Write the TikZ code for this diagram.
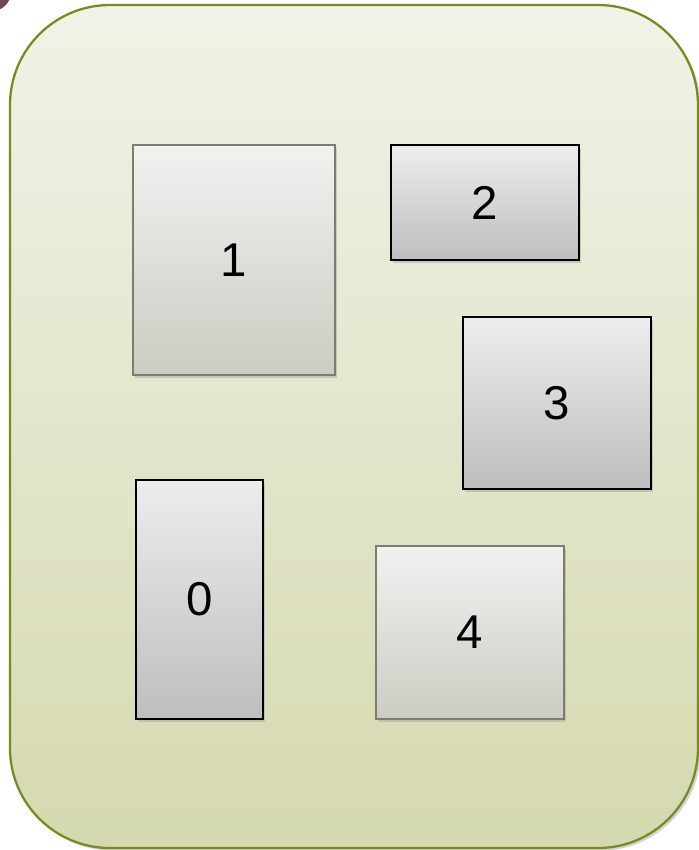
\documentclass[tikz,border=0pt]{standalone}
\usepackage{fontspec}
\setmainfont{Liberation Sans}
\usetikzlibrary{shadows}
\definecolor{olive}{HTML}{7A8A1E}
\definecolor{maroon}{HTML}{4A1A2A}
\definecolor{paneltop}{HTML}{F2F2E8}
\definecolor{panelbot}{HTML}{D5D9AF}
\definecolor{lighttop}{HTML}{F1F1F0}
\definecolor{lightbot}{HTML}{CCCCC4}
\definecolor{lightrim}{HTML}{7C7C70}
\definecolor{darktop}{HTML}{EDEDED}
\definecolor{darkbot}{HTML}{BEBEBE}
\tikzset{
  panel/.style={draw=olive,line width=1.3pt,rounded corners=2cm,
    top color=paneltop,bottom color=panelbot,
    drop shadow={shadow xshift=1.5pt,shadow yshift=-1.5pt,opacity=0.35}},
  lightbox/.style={draw=lightrim,line width=1.1pt,
    top color=lighttop,bottom color=lightbot,
    font=\fontsize{27}{30}\selectfont,
    drop shadow={shadow xshift=1pt,shadow yshift=-1.5pt,opacity=0.3}},
  darkbox/.style={draw=black,line width=1pt,
    top color=darktop,bottom color=darkbot,
    font=\fontsize{27}{30}\selectfont,
    drop shadow={shadow xshift=1pt,shadow yshift=-1.5pt,opacity=0.3}}
}
\begin{document}
\begin{tikzpicture}[x=0.02cm,y=-0.02cm]
\useasboundingbox (0,0) rectangle (699,850);
\fill[maroon!80] (-8,-8) circle (0.38cm);
\path[panel] (10,5) rectangle (698,848);
\node[lightbox,minimum width=4.04cm,minimum height=4.6cm] (b1) at (234,260) {1};
\node[darkbox,minimum width=3.76cm,minimum height=2.3cm] (b2) at (485,202.5) {2};
\node[darkbox,minimum width=3.76cm,minimum height=3.44cm] (b3) at (557,403) {3};
\node[darkbox,minimum width=2.54cm,minimum height=4.78cm] (b0) at (199.5,599.5) {0};
\node[lightbox,minimum width=3.76cm,minimum height=3.46cm] (b4) at (470,632.5) {4};
\end{tikzpicture}
\end{document}
